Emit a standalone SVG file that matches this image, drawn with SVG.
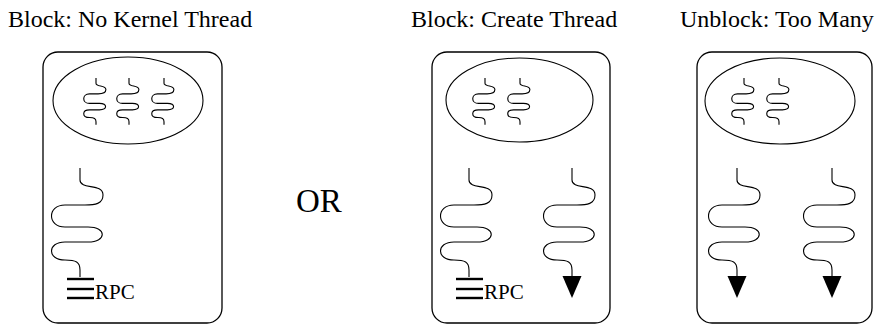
<svg xmlns="http://www.w3.org/2000/svg" xmlns:xlink="http://www.w3.org/1999/xlink" width="878" height="324" viewBox="0 0 878 324">
  <style>
    .box { fill: none; stroke: #000; stroke-width: 1.3; }
    .space { fill: none; stroke: #000; stroke-width: 1.1; }
    .thread { fill: none; stroke: #000; stroke-width: 1.1; }
    .small { stroke-width: 2.6; }
    .bar { stroke: #000; stroke-width: 2.4; }
    .head { fill: #000; stroke: none; }
    text { font-family: "Liberation Serif", "DejaVu Serif", Times, serif; fill: #000; }
    .title { font-size: 24px; }
    .rpc { font-size: 21px; }
    .or { font-size: 33px; }
  </style>
  <defs>
    <!-- wavy thread, drawn from its top end at (0,0) -->
    <path id="thread" d="M0,0 L0,12 C0,22 23,15 23,27 C23,36 15,37 5,37 L-15,37 C-33,37 -33,59 -15,59 L8,59 C27,59 27,74 8,74 L-15,74 C-33,74 -33,92 -15,92 C-4,92 0,94 0,102 L0,109"/>
  </defs>

  <rect width="878" height="324" fill="#fff"/>

  <!-- titles -->
  <text class="title" x="8" y="27" font-family="Liberation Serif, DejaVu Serif, serif">Block: No Kernel Thread</text>
  <text class="title" x="411" y="27" font-family="Liberation Serif, DejaVu Serif, serif">Block: Create Thread</text>
  <text class="title" x="680" y="27" font-family="Liberation Serif, DejaVu Serif, serif">Unblock: Too Many</text>

  <!-- left: blocked on RPC, no kernel thread -->
  <g id="process-no-kernel-thread">
    <rect class="box" x="43" y="52" width="179" height="271" rx="15"/>
    <ellipse class="space" cx="128" cy="100.5" rx="75" ry="43.5"/>
    <use xlink:href="#thread" class="thread small" transform="translate(96,78) scale(0.43)"/>
    <use xlink:href="#thread" class="thread small" transform="translate(129,78) scale(0.43)"/>
    <use xlink:href="#thread" class="thread small" transform="translate(164,78) scale(0.43)"/>
    <use xlink:href="#thread" class="thread" transform="translate(80,168)"/>
    <line class="bar" x1="67" y1="279" x2="94" y2="279"/>
    <line class="bar" x1="67" y1="289" x2="94" y2="289"/>
    <line class="bar" x1="67" y1="298" x2="94" y2="298"/>
    <text class="rpc" x="95" y="299" font-family="Liberation Serif, DejaVu Serif, serif">RPC</text>
  </g>

  <text class="or" x="296" y="212" font-family="Liberation Serif, DejaVu Serif, serif">OR</text>

  <!-- middle: blocked on RPC, new kernel thread created -->
  <g id="process-create-thread">
    <rect class="box" x="432" y="52" width="178" height="271" rx="15"/>
    <ellipse class="space" cx="519.5" cy="100" rx="73.5" ry="42"/>
    <use xlink:href="#thread" class="thread small" transform="translate(485,78) scale(0.43)"/>
    <use xlink:href="#thread" class="thread small" transform="translate(520,78) scale(0.43)"/>
    <use xlink:href="#thread" class="thread" transform="translate(469,168)"/>
    <line class="bar" x1="456" y1="279" x2="483" y2="279"/>
    <line class="bar" x1="456" y1="289" x2="483" y2="289"/>
    <line class="bar" x1="456" y1="298" x2="483" y2="298"/>
    <text class="rpc" x="484" y="299" font-family="Liberation Serif, DejaVu Serif, serif">RPC</text>
    <use xlink:href="#thread" class="thread" transform="translate(572,168)"/>
    <polygon class="head" points="562.5,276 581.5,276 572,298"/>
  </g>

  <!-- right: unblocked, too many kernel threads running -->
  <g id="process-too-many">
    <rect class="box" x="697" y="52" width="175" height="271" rx="15"/>
    <ellipse class="space" cx="780" cy="101" rx="75" ry="43"/>
    <use xlink:href="#thread" class="thread small" transform="translate(744,78) scale(0.43)"/>
    <use xlink:href="#thread" class="thread small" transform="translate(779,78) scale(0.43)"/>
    <use xlink:href="#thread" class="thread" transform="translate(737,168)"/>
    <polygon class="head" points="727.5,276 746.5,276 737,298"/>
    <use xlink:href="#thread" class="thread" transform="translate(832,168)"/>
    <polygon class="head" points="822.5,276 841.5,276 832,298"/>
  </g>
</svg>
